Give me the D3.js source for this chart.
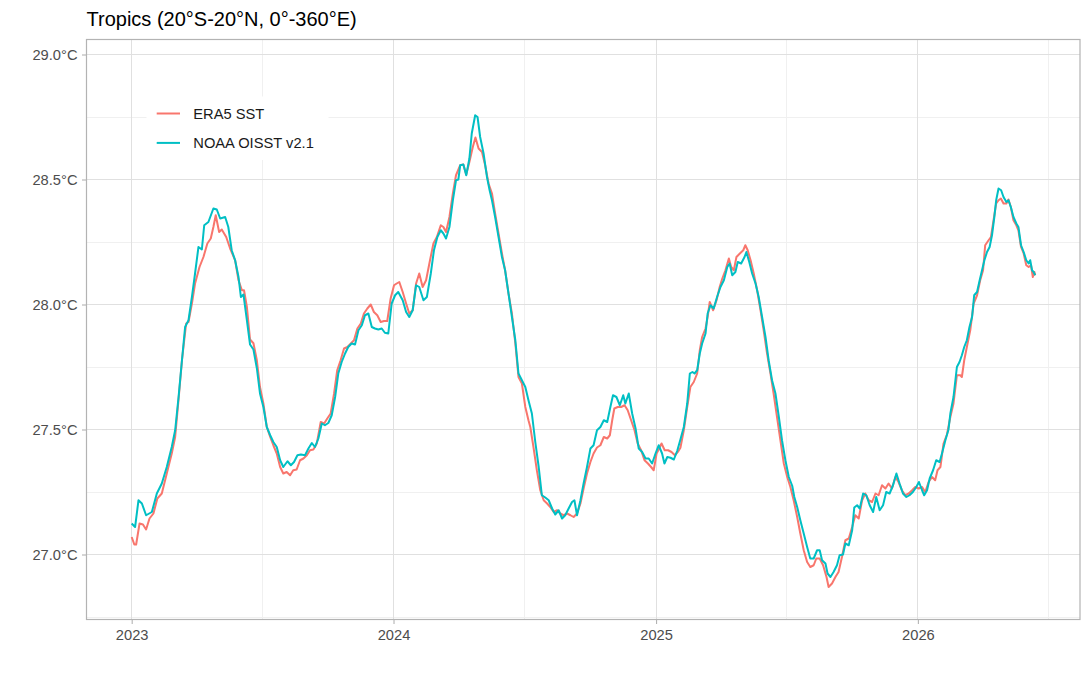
<!DOCTYPE html>
<html>

<head>
    <meta charset="utf-8">
    <style>
        body { margin: 0; background: #ffffff; }
        svg { display: block; font-family: "Liberation Sans", Arial, sans-serif; }
    </style>
</head>

<body>
    <script src="https://cdn.jsdelivr.net/npm/d3@7/dist/d3.min.js"></script>
    <div id="chart"></div>
    <script>
        // values (time as decimal year, SST in degC)
        const era5Year = [
            2023.000, 2023.010, 2023.017, 2023.030, 2023.043, 2023.055, 2023.068, 2023.083, 2023.098, 2023.115,
            2023.134, 2023.153, 2023.166, 2023.179, 2023.192, 2023.208, 2023.217, 2023.230, 2023.242, 2023.259,
            2023.274, 2023.289, 2023.302, 2023.312, 2023.321, 2023.334, 2023.344, 2023.361, 2023.376, 2023.395,
            2023.408, 2023.421, 2023.429, 2023.440, 2023.452, 2023.465, 2023.478, 2023.490, 2023.503, 2023.516,
            2023.529, 2023.541, 2023.554, 2023.567, 2023.579, 2023.592, 2023.605, 2023.617, 2023.630, 2023.643,
            2023.656, 2023.669, 2023.681, 2023.694, 2023.707, 2023.722, 2023.735, 2023.747, 2023.760, 2023.773,
            2023.785, 2023.798, 2023.811, 2023.824, 2023.837, 2023.849, 2023.862, 2023.875, 2023.887, 2023.900,
            2023.913, 2023.925, 2023.938, 2023.951, 2023.964, 2023.976, 2023.989, 2024.002, 2024.012, 2024.022,
            2024.035, 2024.048, 2024.060, 2024.073, 2024.086, 2024.098, 2024.111, 2024.124, 2024.139, 2024.152,
            2024.165, 2024.180, 2024.190, 2024.200, 2024.213, 2024.226, 2024.238, 2024.254, 2024.266, 2024.277,
            2024.289, 2024.302, 2024.312, 2024.324, 2024.337, 2024.349, 2024.362, 2024.375, 2024.387, 2024.400,
            2024.413, 2024.425, 2024.438, 2024.451, 2024.464, 2024.476, 2024.489, 2024.502, 2024.514, 2024.521,
            2024.533, 2024.546, 2024.559, 2024.572, 2024.585, 2024.597, 2024.610, 2024.623, 2024.635, 2024.648,
            2024.661, 2024.674, 2024.686, 2024.699, 2024.712, 2024.724, 2024.737, 2024.750, 2024.762, 2024.775,
            2024.788, 2024.801, 2024.814, 2024.824, 2024.833, 2024.841, 2024.854, 2024.867, 2024.880, 2024.892,
            2024.905, 2024.918, 2024.930, 2024.943, 2024.956, 2024.969, 2024.981, 2024.991, 2025.002, 2025.010,
            2025.021, 2025.033, 2025.046, 2025.059, 2025.072, 2025.085, 2025.093, 2025.106, 2025.119, 2025.131,
            2025.144, 2025.157, 2025.167, 2025.176, 2025.189, 2025.197, 2025.205, 2025.218, 2025.231, 2025.243,
            2025.253, 2025.265, 2025.278, 2025.287, 2025.297, 2025.307, 2025.320, 2025.333, 2025.341, 2025.350,
            2025.361, 2025.373, 2025.386, 2025.399, 2025.411, 2025.424, 2025.437, 2025.449, 2025.462, 2025.475,
            2025.488, 2025.501, 2025.513, 2025.526, 2025.539, 2025.551, 2025.564, 2025.577, 2025.589, 2025.602,
            2025.612, 2025.625, 2025.638, 2025.651, 2025.659, 2025.672, 2025.685, 2025.697, 2025.710, 2025.723,
            2025.736, 2025.749, 2025.761, 2025.774, 2025.787, 2025.799, 2025.812, 2025.825, 2025.838, 2025.850,
            2025.863, 2025.876, 2025.888, 2025.901, 2025.914, 2025.926, 2025.939, 2025.952, 2025.965, 2025.978,
            2025.990, 2026.003, 2026.016, 2026.028, 2026.041, 2026.054, 2026.066, 2026.075, 2026.086, 2026.098,
            2026.111, 2026.124, 2026.136, 2026.149, 2026.162, 2026.168, 2026.177, 2026.187, 2026.200, 2026.213,
            2026.226, 2026.238, 2026.249, 2026.257, 2026.270, 2026.279, 2026.289, 2026.299, 2026.308, 2026.317,
            2026.327, 2026.338, 2026.346, 2026.355, 2026.365, 2026.376, 2026.384, 2026.394, 2026.404, 2026.414,
            2026.423, 2026.432, 2026.439, 2026.445, 2026.448
        ]
        const era5Sst = [
            27.07, 27.04, 27.04, 27.124, 27.12, 27.10, 27.144, 27.164, 27.224, 27.244,
            27.324, 27.404, 27.47, 27.62, 27.777, 27.924, 27.93, 28.004, 28.084, 28.15,
            28.19, 28.244, 28.264, 28.31, 28.357, 28.29, 28.30, 28.27, 28.224, 28.177,
            28.097, 28.057, 28.057, 27.99, 27.86, 27.845, 27.777, 27.67, 27.604, 27.51,
            27.47, 27.437, 27.404, 27.35, 27.324, 27.33, 27.317, 27.337, 27.34, 27.377,
            27.384, 27.397, 27.417, 27.42, 27.444, 27.53, 27.524, 27.544, 27.564, 27.644,
            27.737, 27.777, 27.824, 27.83, 27.844, 27.857, 27.904, 27.924, 27.964, 27.984,
            28.00, 27.97, 27.957, 27.93, 27.934, 27.934, 28.024, 28.077, 28.084, 28.09,
            28.05, 28.004, 27.964, 27.977, 28.084, 28.124, 28.07, 28.097, 28.177, 28.244,
            28.27, 28.317, 28.31, 28.29, 28.35, 28.444, 28.517, 28.557, 28.56, 28.52,
            28.57, 28.63, 28.668, 28.624, 28.61, 28.557, 28.484, 28.444, 28.364, 28.284,
            28.204, 28.137, 28.044, 27.964, 27.844, 27.71, 27.684, 27.59, 27.537, 27.51,
            27.43, 27.337, 27.257, 27.217, 27.204, 27.19, 27.17, 27.177, 27.164, 27.157,
            27.164, 27.157, 27.15, 27.164, 27.204, 27.264, 27.324, 27.37, 27.404, 27.428,
            27.437, 27.47, 27.464, 27.477, 27.537, 27.584, 27.59, 27.59, 27.597, 27.577,
            27.537, 27.497, 27.444, 27.417, 27.377, 27.364, 27.35, 27.337, 27.404, 27.42,
            27.444, 27.417, 27.417, 27.41, 27.397, 27.413, 27.427, 27.497, 27.59, 27.67,
            27.69, 27.724, 27.817, 27.87, 27.904, 27.95, 28.01, 27.977, 28.017, 28.07,
            28.104, 28.137, 28.184, 28.15, 28.137, 28.19, 28.204, 28.217, 28.237, 28.217,
            28.177, 28.124, 28.057, 27.977, 27.897, 27.804, 27.724, 27.644, 27.55, 27.457,
            27.364, 27.31, 27.27, 27.215, 27.15, 27.084, 27.017, 26.97, 26.95, 26.957,
            26.984, 26.984, 26.957, 26.91, 26.87, 26.884, 26.91, 26.93, 26.99, 27.057,
            27.064, 27.11, 27.157, 27.144, 27.217, 27.244, 27.217, 27.21, 27.244, 27.237,
            27.277, 27.264, 27.284, 27.264, 27.31, 27.29, 27.257, 27.237, 27.244, 27.257,
            27.27, 27.264, 27.27, 27.25, 27.29, 27.31, 27.297, 27.337, 27.35, 27.444,
            27.48, 27.55, 27.604, 27.717, 27.717, 27.71, 27.777, 27.83, 27.897, 28.004,
            28.037, 28.097, 28.137, 28.237, 28.257, 28.27, 28.337, 28.404, 28.417, 28.424,
            28.404, 28.404, 28.42, 28.39, 28.337, 28.317, 28.297, 28.23, 28.204, 28.157,
            28.15, 28.157, 28.11, 28.13, 28.117
        ]

        const oisstYear = [
            2023.000, 2023.013, 2023.026, 2023.039, 2023.055, 2023.077, 2023.096, 2023.115, 2023.134, 2023.153,
            2023.166, 2023.179, 2023.192, 2023.204, 2023.217, 2023.230, 2023.242, 2023.255, 2023.268, 2023.277,
            2023.293, 2023.312, 2023.325, 2023.338, 2023.357, 2023.369, 2023.382, 2023.395, 2023.408, 2023.417,
            2023.427, 2023.440, 2023.452, 2023.465, 2023.478, 2023.490, 2023.503, 2023.516, 2023.529, 2023.541,
            2023.554, 2023.567, 2023.579, 2023.595, 2023.608, 2023.620, 2023.633, 2023.646, 2023.662, 2023.675,
            2023.688, 2023.700, 2023.713, 2023.726, 2023.738, 2023.751, 2023.764, 2023.777, 2023.789, 2023.802,
            2023.815, 2023.827, 2023.840, 2023.853, 2023.866, 2023.879, 2023.891, 2023.904, 2023.917, 2023.929,
            2023.942, 2023.955, 2023.967, 2023.980, 2023.993, 2024.006, 2024.018, 2024.035, 2024.048, 2024.060,
            2024.073, 2024.086, 2024.098, 2024.114, 2024.127, 2024.142, 2024.154, 2024.167, 2024.180, 2024.190,
            2024.200, 2024.213, 2024.226, 2024.238, 2024.247, 2024.254, 2024.266, 2024.277, 2024.289, 2024.298,
            2024.311, 2024.320, 2024.330, 2024.343, 2024.356, 2024.366, 2024.375, 2024.387, 2024.400, 2024.413,
            2024.425, 2024.438, 2024.451, 2024.464, 2024.476, 2024.489, 2024.502, 2024.514, 2024.527, 2024.540,
            2024.553, 2024.565, 2024.578, 2024.591, 2024.604, 2024.616, 2024.629, 2024.642, 2024.654, 2024.667,
            2024.680, 2024.689, 2024.699, 2024.712, 2024.724, 2024.737, 2024.750, 2024.762, 2024.775, 2024.788,
            2024.801, 2024.814, 2024.826, 2024.836, 2024.849, 2024.862, 2024.875, 2024.883, 2024.896, 2024.909,
            2024.922, 2024.934, 2024.947, 2024.960, 2024.972, 2024.985, 2024.998, 2025.010, 2025.023, 2025.032,
            2025.043, 2025.055, 2025.068, 2025.081, 2025.093, 2025.106, 2025.119, 2025.129, 2025.139, 2025.147,
            2025.157, 2025.167, 2025.176, 2025.189, 2025.197, 2025.208, 2025.220, 2025.233, 2025.246, 2025.259,
            2025.272, 2025.281, 2025.291, 2025.303, 2025.312, 2025.325, 2025.338, 2025.345, 2025.356, 2025.367,
            2025.380, 2025.392, 2025.405, 2025.418, 2025.430, 2025.443, 2025.456, 2025.469, 2025.481, 2025.494,
            2025.507, 2025.520, 2025.528, 2025.539, 2025.551, 2025.564, 2025.577, 2025.589, 2025.602, 2025.615,
            2025.625, 2025.634, 2025.647, 2025.655, 2025.666, 2025.678, 2025.691, 2025.701, 2025.714, 2025.723,
            2025.736, 2025.749, 2025.757, 2025.768, 2025.778, 2025.791, 2025.803, 2025.816, 2025.829, 2025.841,
            2025.854, 2025.867, 2025.879, 2025.892, 2025.905, 2025.918, 2025.930, 2025.943, 2025.956, 2025.968,
            2025.981, 2025.994, 2026.004, 2026.016, 2026.024, 2026.035, 2026.045, 2026.058, 2026.070, 2026.083,
            2026.092, 2026.105, 2026.117, 2026.124, 2026.136, 2026.149, 2026.159, 2026.168, 2026.177, 2026.187,
            2026.197, 2026.207, 2026.215, 2026.226, 2026.236, 2026.245, 2026.254, 2026.264, 2026.274, 2026.283,
            2026.292, 2026.299, 2026.308, 2026.318, 2026.327, 2026.338, 2026.346, 2026.355, 2026.365, 2026.376,
            2026.384, 2026.394, 2026.404, 2026.414, 2026.423, 2026.429, 2026.436, 2026.442, 2026.448
        ]
        const oisstSst = [
            27.124, 27.11, 27.217, 27.204, 27.157, 27.17, 27.244, 27.284, 27.35, 27.43,
            27.497, 27.63, 27.777, 27.91, 27.937, 28.03, 28.124, 28.23, 28.22, 28.317,
            28.33, 28.384, 28.38, 28.344, 28.35, 28.31, 28.217, 28.177, 28.11, 28.03,
            28.04, 27.937, 27.84, 27.82, 27.745, 27.644, 27.59, 27.51, 27.477, 27.45,
            27.43, 27.377, 27.35, 27.373, 27.357, 27.37, 27.397, 27.40, 27.397, 27.424,
            27.446, 27.43, 27.464, 27.524, 27.517, 27.526, 27.557, 27.63, 27.724, 27.77,
            27.804, 27.83, 27.844, 27.84, 27.897, 27.917, 27.957, 27.964, 27.91, 27.904,
            27.90, 27.904, 27.887, 27.884, 28.004, 28.037, 28.05, 28.017, 27.97, 27.95,
            27.977, 28.077, 28.07, 28.017, 28.03, 28.124, 28.217, 28.27, 28.297, 28.284,
            28.264, 28.31, 28.417, 28.497, 28.50, 28.557, 28.56, 28.517, 28.584, 28.684,
            28.757, 28.75, 28.67, 28.604, 28.51, 28.457, 28.417, 28.35, 28.27, 28.19,
            28.137, 28.044, 27.95, 27.857, 27.724, 27.697, 27.67, 27.617, 27.564, 27.45,
            27.35, 27.237, 27.228, 27.217, 27.184, 27.16, 27.177, 27.144, 27.157, 27.184,
            27.21, 27.217, 27.157, 27.217, 27.284, 27.35, 27.424, 27.437, 27.497, 27.51,
            27.537, 27.53, 27.59, 27.637, 27.63, 27.597, 27.637, 27.604, 27.644, 27.564,
            27.504, 27.424, 27.41, 27.384, 27.384, 27.364, 27.404, 27.437, 27.404, 27.364,
            27.39, 27.387, 27.38, 27.415, 27.46, 27.51, 27.604, 27.724, 27.73, 27.724,
            27.737, 27.804, 27.844, 27.884, 27.964, 27.997, 27.984, 28.03, 28.07, 28.097,
            28.15, 28.164, 28.117, 28.13, 28.17, 28.164, 28.19, 28.21, 28.17, 28.124,
            28.084, 28.03, 27.95, 27.87, 27.777, 27.697, 27.644, 27.55, 27.457, 27.377,
            27.31, 27.275, 27.23, 27.19, 27.137, 27.084, 27.03, 26.984, 26.984, 27.017,
            27.017, 26.977, 26.964, 26.924, 26.91, 26.93, 26.957, 26.997, 27.00, 27.044,
            27.037, 27.097, 27.188, 27.197, 27.184, 27.244, 27.237, 27.197, 27.17, 27.23,
            27.177, 27.197, 27.25, 27.244, 27.277, 27.324, 27.284, 27.244, 27.23, 27.237,
            27.25, 27.27, 27.29, 27.257, 27.237, 27.257, 27.304, 27.337, 27.377, 27.37,
            27.404, 27.457, 27.50, 27.564, 27.63, 27.75, 27.77, 27.797, 27.83, 27.857,
            27.91, 27.95, 28.037, 28.05, 28.097, 28.137, 28.177, 28.21, 28.23, 28.277,
            28.35, 28.417, 28.464, 28.457, 28.43, 28.41, 28.417, 28.39, 28.35, 28.324,
            28.31, 28.237, 28.21, 28.177, 28.164, 28.177, 28.137, 28.13, 28.117
        ]

        const seriesNames = ["ERA5 SST", "NOAA OISST v2.1"]
        const seriesColors = ["#F8766D", "#00BFC4"]

        const yTicks = [27.0, 27.5, 28.0, 28.5, 29.0]
        const yMinor = [26.75, 27.25, 27.75, 28.25, 28.75]
        const xTicks = ["2023-01-01", "2024-01-01", "2025-01-01", "2026-01-01"]
        const xMinor = ["2023-07-02", "2024-07-02", "2025-07-02", "2026-07-02"]
        const xLimits = ["2022-10-30", "2026-08-15"]
        const yLimits = [26.74, 29.06]

        const width = 1090
        const height = 674
        const margin = { top: 39.5, right: 10, bottom: 54.5, left: 86.5 }
        const plotW = width - margin.left - margin.right
        const plotH = height - margin.top - margin.bottom

        const textGrey = "#4d4d4d"
        const borderGrey = "#b3b3b3"

        // decimal year -> UTC date
        const yearToDate = (t) => {
            const y = Math.floor(t)
            const start = Date.UTC(y, 0, 1)
            const end = Date.UTC(y + 1, 0, 1)
            return new Date(start + (t - y) * (end - start))
        }
        const parse = d3.utcParse("%Y-%m-%d")

        const series = [
            { name: seriesNames[0], color: seriesColors[0], values: era5Year.map((t, i) => ({ date: yearToDate(t), sst: era5Sst[i] })) },
            { name: seriesNames[1], color: seriesColors[1], values: oisstYear.map((t, i) => ({ date: yearToDate(t), sst: oisstSst[i] })) }
        ]

        const xScale = d3.scaleUtc()
            .domain(xLimits.map(parse))
            .range([margin.left, margin.left + plotW])

        const yScale = d3.scaleLinear()
            .domain(yLimits)
            .range([margin.top + plotH, margin.top])

        const svg = d3.select("#chart").append("svg")
            .attr("width", width)
            .attr("height", height)

        svg.append("rect")
            .attr("width", width)
            .attr("height", height)
            .attr("fill", "#ffffff")

        // grid
        const grid = svg.append("g").attr("shape-rendering", "crispEdges")

        grid.selectAll(".y-minor")
            .data(yMinor)
            .enter()
            .append("line")
            .attr("x1", margin.left)
            .attr("x2", margin.left + plotW)
            .attr("y1", d => yScale(d))
            .attr("y2", d => yScale(d))
            .attr("stroke", "#f0f0f0")
            .attr("stroke-width", 1)

        grid.selectAll(".x-minor")
            .data(xMinor.map(parse))
            .enter()
            .append("line")
            .attr("x1", d => xScale(d))
            .attr("x2", d => xScale(d))
            .attr("y1", margin.top)
            .attr("y2", margin.top + plotH)
            .attr("stroke", "#f0f0f0")
            .attr("stroke-width", 1)

        grid.selectAll(".y-major")
            .data(yTicks)
            .enter()
            .append("line")
            .attr("x1", margin.left)
            .attr("x2", margin.left + plotW)
            .attr("y1", d => yScale(d))
            .attr("y2", d => yScale(d))
            .attr("stroke", "#e0e0e0")
            .attr("stroke-width", 1)

        grid.selectAll(".x-major")
            .data(xTicks.map(parse))
            .enter()
            .append("line")
            .attr("x1", d => xScale(d))
            .attr("x2", d => xScale(d))
            .attr("y1", margin.top)
            .attr("y2", margin.top + plotH)
            .attr("stroke", "#e0e0e0")
            .attr("stroke-width", 1)

        // lines
        const line = d3.line()
            .x(d => xScale(d.date))
            .y(d => yScale(d.sst))

        svg.append("g")
            .selectAll("path")
            .data(series)
            .enter()
            .append("path")
            .attr("d", d => line(d.values))
            .attr("fill", "none")
            .attr("stroke", d => d.color)
            .attr("stroke-width", 2)
            .attr("stroke-linejoin", "round")

        // panel border
        svg.append("rect")
            .attr("x", margin.left)
            .attr("y", margin.top)
            .attr("width", plotW)
            .attr("height", plotH)
            .attr("fill", "none")
            .attr("stroke", borderGrey)
            .attr("stroke-width", 1.2)

        // axes
        const yAxis = d3.axisLeft(yScale)
            .tickValues(yTicks)
            .tickSize(4.5)
            .tickPadding(4.5)
            .tickFormat(d => d3.format(".1f")(d) + "°C")

        const xAxis = d3.axisBottom(xScale)
            .tickValues(xTicks.map(parse))
            .tickSize(4.5)
            .tickPadding(6)
            .tickFormat(d3.utcFormat("%Y"))

        const gy = svg.append("g")
            .attr("transform", "translate(" + margin.left + ",0)")
            .call(yAxis)
        const gx = svg.append("g")
            .attr("transform", "translate(0," + (margin.top + plotH) + ")")
            .call(xAxis)

        ;[gx, gy].forEach(g => {
            g.attr("font-family", null).attr("font-size", 14.7)
            g.select(".domain").remove()
            g.selectAll(".tick line").attr("stroke", borderGrey).attr("stroke-width", 1.1)
            g.selectAll(".tick text").attr("fill", textGrey)
        })

        // title
        svg.append("text")
            .attr("x", margin.left)
            .attr("y", 25.5)
            .attr("font-size", 20)
            .attr("fill", "#000000")
            .text("Tropics (20°S-20°N, 0°-360°E)")

        // legend inside panel
        const legend = svg.append("g")
            .attr("transform", "translate(146.5,96.5)")

        legend.append("rect")
            .attr("width", 182)
            .attr("height", 63.5)
            .attr("fill", "#ffffff")

        const item = legend.selectAll(".legend-item")
            .data(series)
            .enter()
            .append("g")
            .attr("transform", (d, i) => "translate(0," + (17 + i * 29.4) + ")")

        item.append("line")
            .attr("x1", 10.2)
            .attr("x2", 33.5)
            .attr("stroke", d => d.color)
            .attr("stroke-width", 2)
        item.append("text")
            .attr("x", 46.8)
            .attr("dy", "0.35em")
            .attr("font-size", 14.7)
            .attr("fill", "#1a1a1a")
            .text(d => d.name)
    </script>
</body>

</html>
